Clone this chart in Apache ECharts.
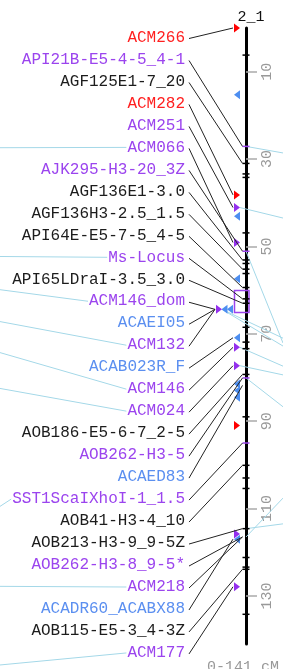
<!DOCTYPE html>
<html>
<head>
<meta charset="utf-8">
<script src="https://cdn.jsdelivr.net/npm/echarts@6/dist/echarts.min.js"></script>
<style>
  html, body { margin: 0; padding: 0; background: #fff; }
  #chart { width: 283px; height: 669px; }
</style>
</head>
<body>
<div id="chart"></div>
<script>
// linkage group 2_1, positions in cM
const groupName = '2_1'
const groupLength = 141

// marker labels top to bottom, colour class and where the connector lands (cM)
const markerNames = [
  'ACM266', 'API21B-E5-4-5_4-1', 'AGF125E1-7_20', 'ACM282', 'ACM251', 'ACM066',
  'AJK295-H3-20_3Z', 'AGF136E1-3.0', 'AGF136H3-2.5_1.5', 'API64E-E5-7-5_4-5',
  'Ms-Locus', 'API65LDraI-3.5_3.0', 'ACM146_dom', 'ACAEI05', 'ACM132', 'ACAB023R_F',
  'ACM146', 'ACM024', 'AOB186-E5-6-7_2-5', 'AOB262-H3-5', 'ACAED83',
  'SST1ScaIXhoI-1_1.5', 'AOB41-H3-4_10', 'AOB213-H3-9_9-5Z', 'AOB262-H3-8_9-5*',
  'ACM218', 'ACADR60_ACABX88', 'AOB115-E5-3_4-3Z', 'ACM177'
]
const markerColors = [
  'r', 'p', 'k', 'r', 'p', 'p',
  'p', 'k', 'k', 'k',
  'p', 'k', 'p', 'b', 'p', 'b',
  'p', 'p', 'k', 'p', 'b',
  'p', 'k', 'k', 'p',
  'p', 'b', 'k', 'p'
]
const markerPos = [
  0, 27.1, 31, 38.2, 41.1, 49.1,
  51.1, 53.1, 55.2, 59.4,
  62, 63, 64.4, 64.4, 64.4, 70.9,
  73.1, 77.3, 79.3, 80.1, 81.8,
  95, 100.1, 114.6, 116.5,
  116.5, 117, 123.9, 127.9
]

// loci ticks on the bar
const tickPos = [6.2, 27.1, 31, 33.4, 34.2, 46.9, 51.1, 53.1, 53.9, 55.2, 56.2, 59.4, 62, 63,
  68.5, 71.9, 73.4, 79.3, 80.1, 89, 95, 100.1, 103, 105.4, 114.6, 121.2, 123.4, 123.9, 134.2]
const tickColors = ['k', 'p', 'k', 'k', 'k', 'k', 'p', 'k', 'k', 'k', 'k', 'k', 'k', 'k',
  'k', 'k', 'k', 'k', 'p', 'k', 'p', 'k', 'k', 'k', 'k', 'k', 'k', 'k', 'k']

// triangles beside the bar (r/p point right, b points left)
const triPos = [0, 15.3, 38.2, 41.1, 43.1, 49.1, 57.4, 64.4, 64.4, 64.4, 70.9, 73.1, 77.3,
  81.5, 83, 84.5, 91, 115.8, 117, 127.9]
const triTypes = ['r', 'b', 'r', 'p', 'b', 'p', 'b', 'b', 'b', 'p', 'b', 'p', 'p',
  'b', 'b', 'b', 'r', 'p', 'b', 'p']

// QTL box
const boxStart = 60.1
const boxEnd = 65.1

// links to other groups: left side (label index -> cM level at the edge)
const leftLinkMarker = [5, 10, 12, 14, 16, 17, 21, 25, 28]
const leftLinkFar = [27.4, 52.3, 59.9, 67.2, 74.3, 82.5, 109.5, 127.8, 145.8]
// right side (from cM -> cM level at the edge)
const rightLinkFrom = [27.1, 41.1, 51.1, 64.4, 64.4, 73.1, 77.3, 80.1, 114.6, 116.5]
const rightLinkFar = [28.6, 43.5, 72.1, 71.0, 72.8, 77.4, 79.4, 86.7, 113.5, 107.6]

const axisLabels = [10, 30, 50, 70, 90, 110, 130]

const COLORS = { r: '#ff1f1f', p: '#9b44ee', b: '#5b8ff0', k: '#1c1c1c' }
const TRI_COLORS = { r: '#ff0000', p: '#9430ee', b: '#4d8ef0' }
const LINK = '#a4d8e8'
const FONT = '16px "Liberation Mono", monospace'

const BAR_X = 246
const LABEL_RIGHT = 185
const CHAR_W = 9.6
const LABEL_TOP = 37.5
const LABEL_STEP = 21.98

const labelY = i => LABEL_TOP + i * LABEL_STEP
const inBox = p => p >= boxStart && p <= boxEnd

// x centre of each triangle: in the box they are pushed left and stacked
const triX = triPos.map((p, k) => {
  if (!inBox(p)) return 237
  let n = 0
  for (let j = 0; j < k; j++) if (triPos[j] === p) n++
  return 230 - n * 5.5
})

const trisAt = p => triPos.map((q, k) => (Math.abs(q - p) < 0.05 ? k : -1)).filter(k => k >= 0)

const chart = echarts.init(document.getElementById('chart'), null, { renderer: 'canvas' })

const option = {
  animation: false,
  title: {
    text: groupName,
    left: BAR_X,
    top: 5,
    textAlign: 'center',
    textStyle: { fontSize: 15, fontFamily: 'Liberation Mono', fontWeight: 'normal', color: '#111' }
  },
  grid: { left: 0, right: 283 - BAR_X, top: 28, bottom: 25 },
  xAxis: { type: 'value', min: 0, max: BAR_X, show: false },
  yAxis: {
    type: 'value',
    inverse: true,
    min: 0,
    max: groupLength,
    position: 'right',
    axisLine: { show: true, onZero: false, lineStyle: { color: '#000', width: 3 } },
    axisTick: { show: true, customValues: axisLabels, length: 11, inside: false, lineStyle: { color: '#aaa', width: 1.5 } },
    axisLabel: {
      customValues: axisLabels,
      rotate: 90,
      margin: 14,
      color: '#999',
      fontFamily: 'Liberation Mono',
      fontSize: 15
    },
    splitLine: { show: false }
  },
  graphic: [{
    type: 'text',
    left: 207,
    top: 660,
    style: { text: '0-' + groupLength + ' cM', fill: '#999', font: '15px "Liberation Mono", monospace' }
  }],
  series: [
    {
      // link lines to other groups
      type: 'custom',
      clip: false,
      silent: true,
      z: 1,
      data: leftLinkMarker.map((m, k) => [k, leftLinkFar[k]]).concat(rightLinkFrom.map((p, k) => [k, p])),
      renderItem: (params, api) => {
        const k = params.dataIndex
        if (k < leftLinkMarker.length) {
          const m = leftLinkMarker[k]
          const far = api.coord([0, leftLinkFar[k]])
          const x2 = LABEL_RIGHT - markerNames[m].length * CHAR_W - 1
          return { type: 'line', shape: { x1: 0, y1: far[1], x2: x2, y2: labelY(m) }, style: { stroke: LINK, lineWidth: 1 } }
        }
        const j = k - leftLinkMarker.length
        const p = rightLinkFrom[j]
        const from = api.coord([0, p])
        const tris = trisAt(p)
        const x1 = tris.length ? Math.min.apply(null, tris.map(t => triX[t])) + 3 : BAR_X
        const far = api.coord([0, rightLinkFar[j]])
        return { type: 'line', shape: { x1: x1, y1: from[1], x2: 283, y2: far[1] }, style: { stroke: LINK, lineWidth: 1 } }
      }
    },
    {
      // QTL box
      type: 'custom',
      clip: false,
      silent: true,
      z: 2,
      data: [[0, boxStart, boxEnd]],
      renderItem: (params, api) => {
        const a = api.coord([0, api.value(1)])
        const b = api.coord([0, api.value(2)])
        return { type: 'rect', shape: { x: 234.5, y: a[1], width: 14.5, height: b[1] - a[1] }, style: { fill: 'none', stroke: COLORS.p, lineWidth: 1.5 } }
      }
    },
    {
      // loci ticks
      type: 'custom',
      clip: false,
      silent: true,
      z: 4,
      data: tickPos.map((p, k) => [k, p]),
      renderItem: (params, api) => {
        const c = api.coord([0, api.value(1)])
        const col = tickColors[params.dataIndex] === 'p' ? COLORS.p : '#000'
        return { type: 'line', shape: { x1: BAR_X - 3.5, y1: c[1], x2: BAR_X + 3.5, y2: c[1] }, style: { stroke: col, lineWidth: 1.5 } }
      }
    },
    {
      // triangles
      type: 'custom',
      clip: false,
      silent: true,
      z: 3,
      data: triPos.map((p, k) => [k, p]),
      renderItem: (params, api) => {
        const k = params.dataIndex
        const c = api.coord([0, api.value(1)])
        const x = triX[k]
        const y = c[1]
        const t = triTypes[k]
        const pts = t === 'b'
          ? [[x + 3, y - 4.5], [x + 3, y + 4.5], [x - 3, y]]
          : [[x - 3, y - 4.5], [x - 3, y + 4.5], [x + 3, y]]
        return { type: 'polygon', shape: { points: pts }, style: { fill: TRI_COLORS[t] } }
      }
    },
    {
      // marker names and connectors
      type: 'custom',
      clip: false,
      silent: true,
      z: 5,
      data: markerPos.map((p, i) => [i, p]),
      renderItem: (params, api) => {
        const i = params.dataIndex
        const y = labelY(i)
        const end = api.coord([0, api.value(1)])
        const tris = trisAt(markerPos[i])
        const x2 = tris.length ? Math.min.apply(null, tris.map(t => triX[t])) - 4 : BAR_X - 3.5
        return {
          type: 'group',
          children: [
            { type: 'line', shape: { x1: LABEL_RIGHT + 4, y1: y + 1, x2: x2, y2: end[1] }, style: { stroke: '#222', lineWidth: 1 } },
            { type: 'text', style: { text: markerNames[i], x: LABEL_RIGHT, y: y, align: 'right', verticalAlign: 'middle', fill: COLORS[markerColors[i]], font: FONT } }
          ]
        }
      }
    }
  ]
}

chart.setOption(option)
</script>
</body>
</html>
